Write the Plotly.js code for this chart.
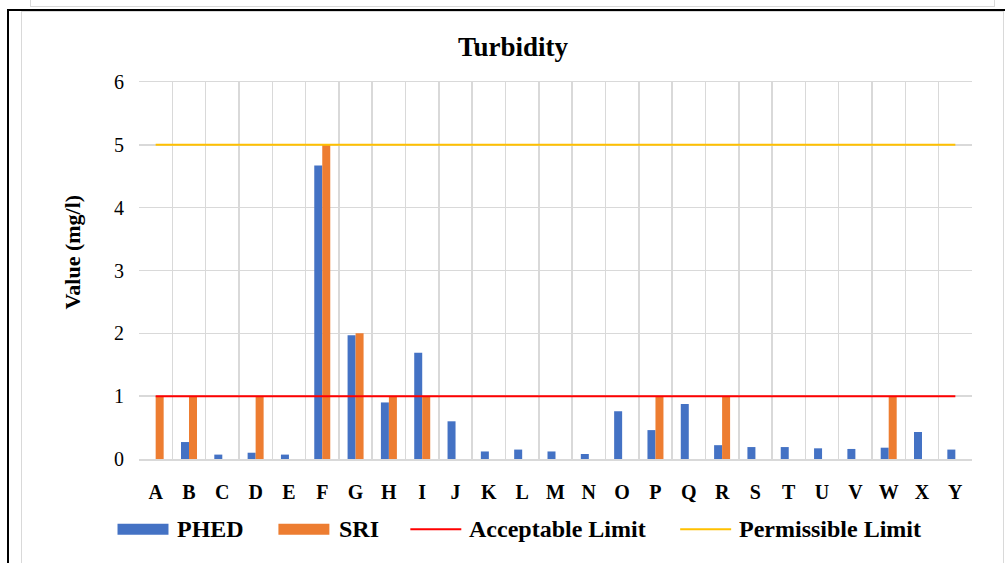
<!DOCTYPE html>
<html>
<head>
<meta charset="utf-8">
<script src="https://cdn.plot.ly/plotly-3.0.1.min.js"></script>
<style>
  html, body { margin: 0; padding: 0; background: #fff; }
  #wrap { position: relative; width: 1007px; height: 563px; overflow: hidden; }
  #chart { position: absolute; left: 0; top: 0; width: 1007px; height: 563px; }
  .deco { position: absolute; pointer-events: none; }
</style>
</head>
<body>
<div id="wrap">
  <div id="chart"></div>
  <div class="deco" style="left:30px; top:-10px; width:963px; height:15px; border:1.5px solid #d9d9d9;"></div>
  <div class="deco" style="left:7px; top:9px; width:2px; height:560px; background:#000;"></div>
  <div class="deco" style="left:7px; top:9px; width:998px; height:2px; background:#000;"></div>
  <div class="deco" style="left:21px; top:11px; width:981px; height:570px; border:1.5px solid #d9d9d9;"></div>
</div>
<script>
const categories = ["A","B","C","D","E","F","G","H","I","J","K","L","M","N","O","P","Q","R","S","T","U","V","W","X","Y"];
const phed = [0, 0.27, 0.07, 0.10, 0.07, 4.67, 1.97, 0.90, 1.69, 0.60, 0.12, 0.15, 0.12, 0.08, 0.76, 0.46, 0.875, 0.22, 0.19, 0.19, 0.17, 0.16, 0.18, 0.43, 0.15];
const sri = [1, 1, 0, 1, 0, 5, 2, 1, 1, 0, 0, 0, 0, 0, 0, 1, 0, 1, 0, 0, 0, 0, 1, 0, 0];
const acceptableLimit = categories.map(() => 1);
const permissibleLimit = categories.map(() => 5);
const seriesNames = ["PHED", "SRI", "Acceptable Limit", "Permissible Limit"];
const seriesColors = ["#4472C4", "#ED7D31", "#FF0000", "#FFC000"];
const yAxisTitle = "Value (mg/l)";
const chartTitle = "Turbidity";

const serif = "Liberation Serif";

const traces = [
  { type: "bar", name: seriesNames[0], x: categories, y: phed, marker: { color: seriesColors[0] } },
  { type: "bar", name: seriesNames[1], x: categories, y: sri, marker: { color: seriesColors[1] } },
  { type: "scatter", mode: "lines", name: seriesNames[2], x: categories, y: acceptableLimit, line: { color: seriesColors[2], width: 2 } },
  { type: "scatter", mode: "lines", name: seriesNames[3], x: categories, y: permissibleLimit, line: { color: seriesColors[3], width: 2 } }
];

// custom legend (paper coordinates derived from pixel layout)
const L = 138.5, W = 833.5, B = 459.5, H = 378;
const px = v => (v - L) / W;
const py = v => (B - v) / H;
const legendSwatchX = [117, 278, 410, 680];
const legendTextX = [175, 337, 467, 737];
const legendY = 530;
const shapes = [];
const annotations = [];
seriesNames.forEach((n, i) => {
  if (i < 2) {
    shapes.push({ type: "rect", xref: "paper", yref: "paper", x0: px(legendSwatchX[i]), x1: px(legendSwatchX[i] + 51),
      y0: py(legendY - 5.5), y1: py(legendY + 5.5), fillcolor: seriesColors[i], line: { width: 0 } });
  } else {
    shapes.push({ type: "line", xref: "paper", yref: "paper", x0: px(legendSwatchX[i]), x1: px(legendSwatchX[i] + 51),
      y0: py(legendY), y1: py(legendY), line: { color: seriesColors[i], width: 2 } });
  }
  annotations.push({ xref: "paper", yref: "paper", x: px(legendTextX[i]), y: py(legendY), xanchor: "left", yanchor: "middle",
    text: "<b>" + n + "</b>", showarrow: false, font: { family: serif, size: 24, color: "#000" } });
});
annotations.push({ xref: "paper", yref: "paper", x: px(72), y: py(252), xanchor: "center", yanchor: "middle",
  textangle: -90, text: "<b>" + yAxisTitle + "</b>", showarrow: false, font: { family: serif, size: 22, color: "#000" } });

const layout = {
  width: 1007, height: 563,
  paper_bgcolor: "rgba(0,0,0,0)", plot_bgcolor: "#fff",
  margin: { l: L, r: 1007 - L - W, t: B - H, b: 563 - B, autoexpand: false },
  barmode: "group", bargap: 0.52, bargroupgap: 0,
  title: { text: "<b>" + chartTitle + "</b>", font: { family: serif, size: 27, color: "#000" },
           x: 513 / 1007, xref: "container", xanchor: "center", y: 1 - 47 / 563, yref: "container", yanchor: "middle" },
  xaxis: {
    type: "category", tickson: "boundaries", showgrid: true, gridcolor: "#d9d9d9", gridwidth: 1.5,
    showline: true, linecolor: "#d9d9d9", linewidth: 1.5, mirror: true,
    ticks: "", ticklabelstandoff: 14,
    tickfont: { family: serif, size: 20, color: "#000" },
    tickvals: categories, ticktext: categories.map(c => "<b>" + c + "</b>"),
    fixedrange: true
  },
  yaxis: {
    range: [0, 6], dtick: 1, showgrid: true, gridcolor: "#d9d9d9", gridwidth: 1.5,
    zeroline: false, showline: false, ticks: "", ticklabelstandoff: 14,
    tickfont: { family: serif, size: 20, color: "#000" },
    fixedrange: true
  },
  showlegend: false,
  shapes: shapes,
  annotations: annotations
};

Plotly.newPlot("chart", traces, layout, { displayModeBar: false, staticPlot: true });
</script>
</body>
</html>
